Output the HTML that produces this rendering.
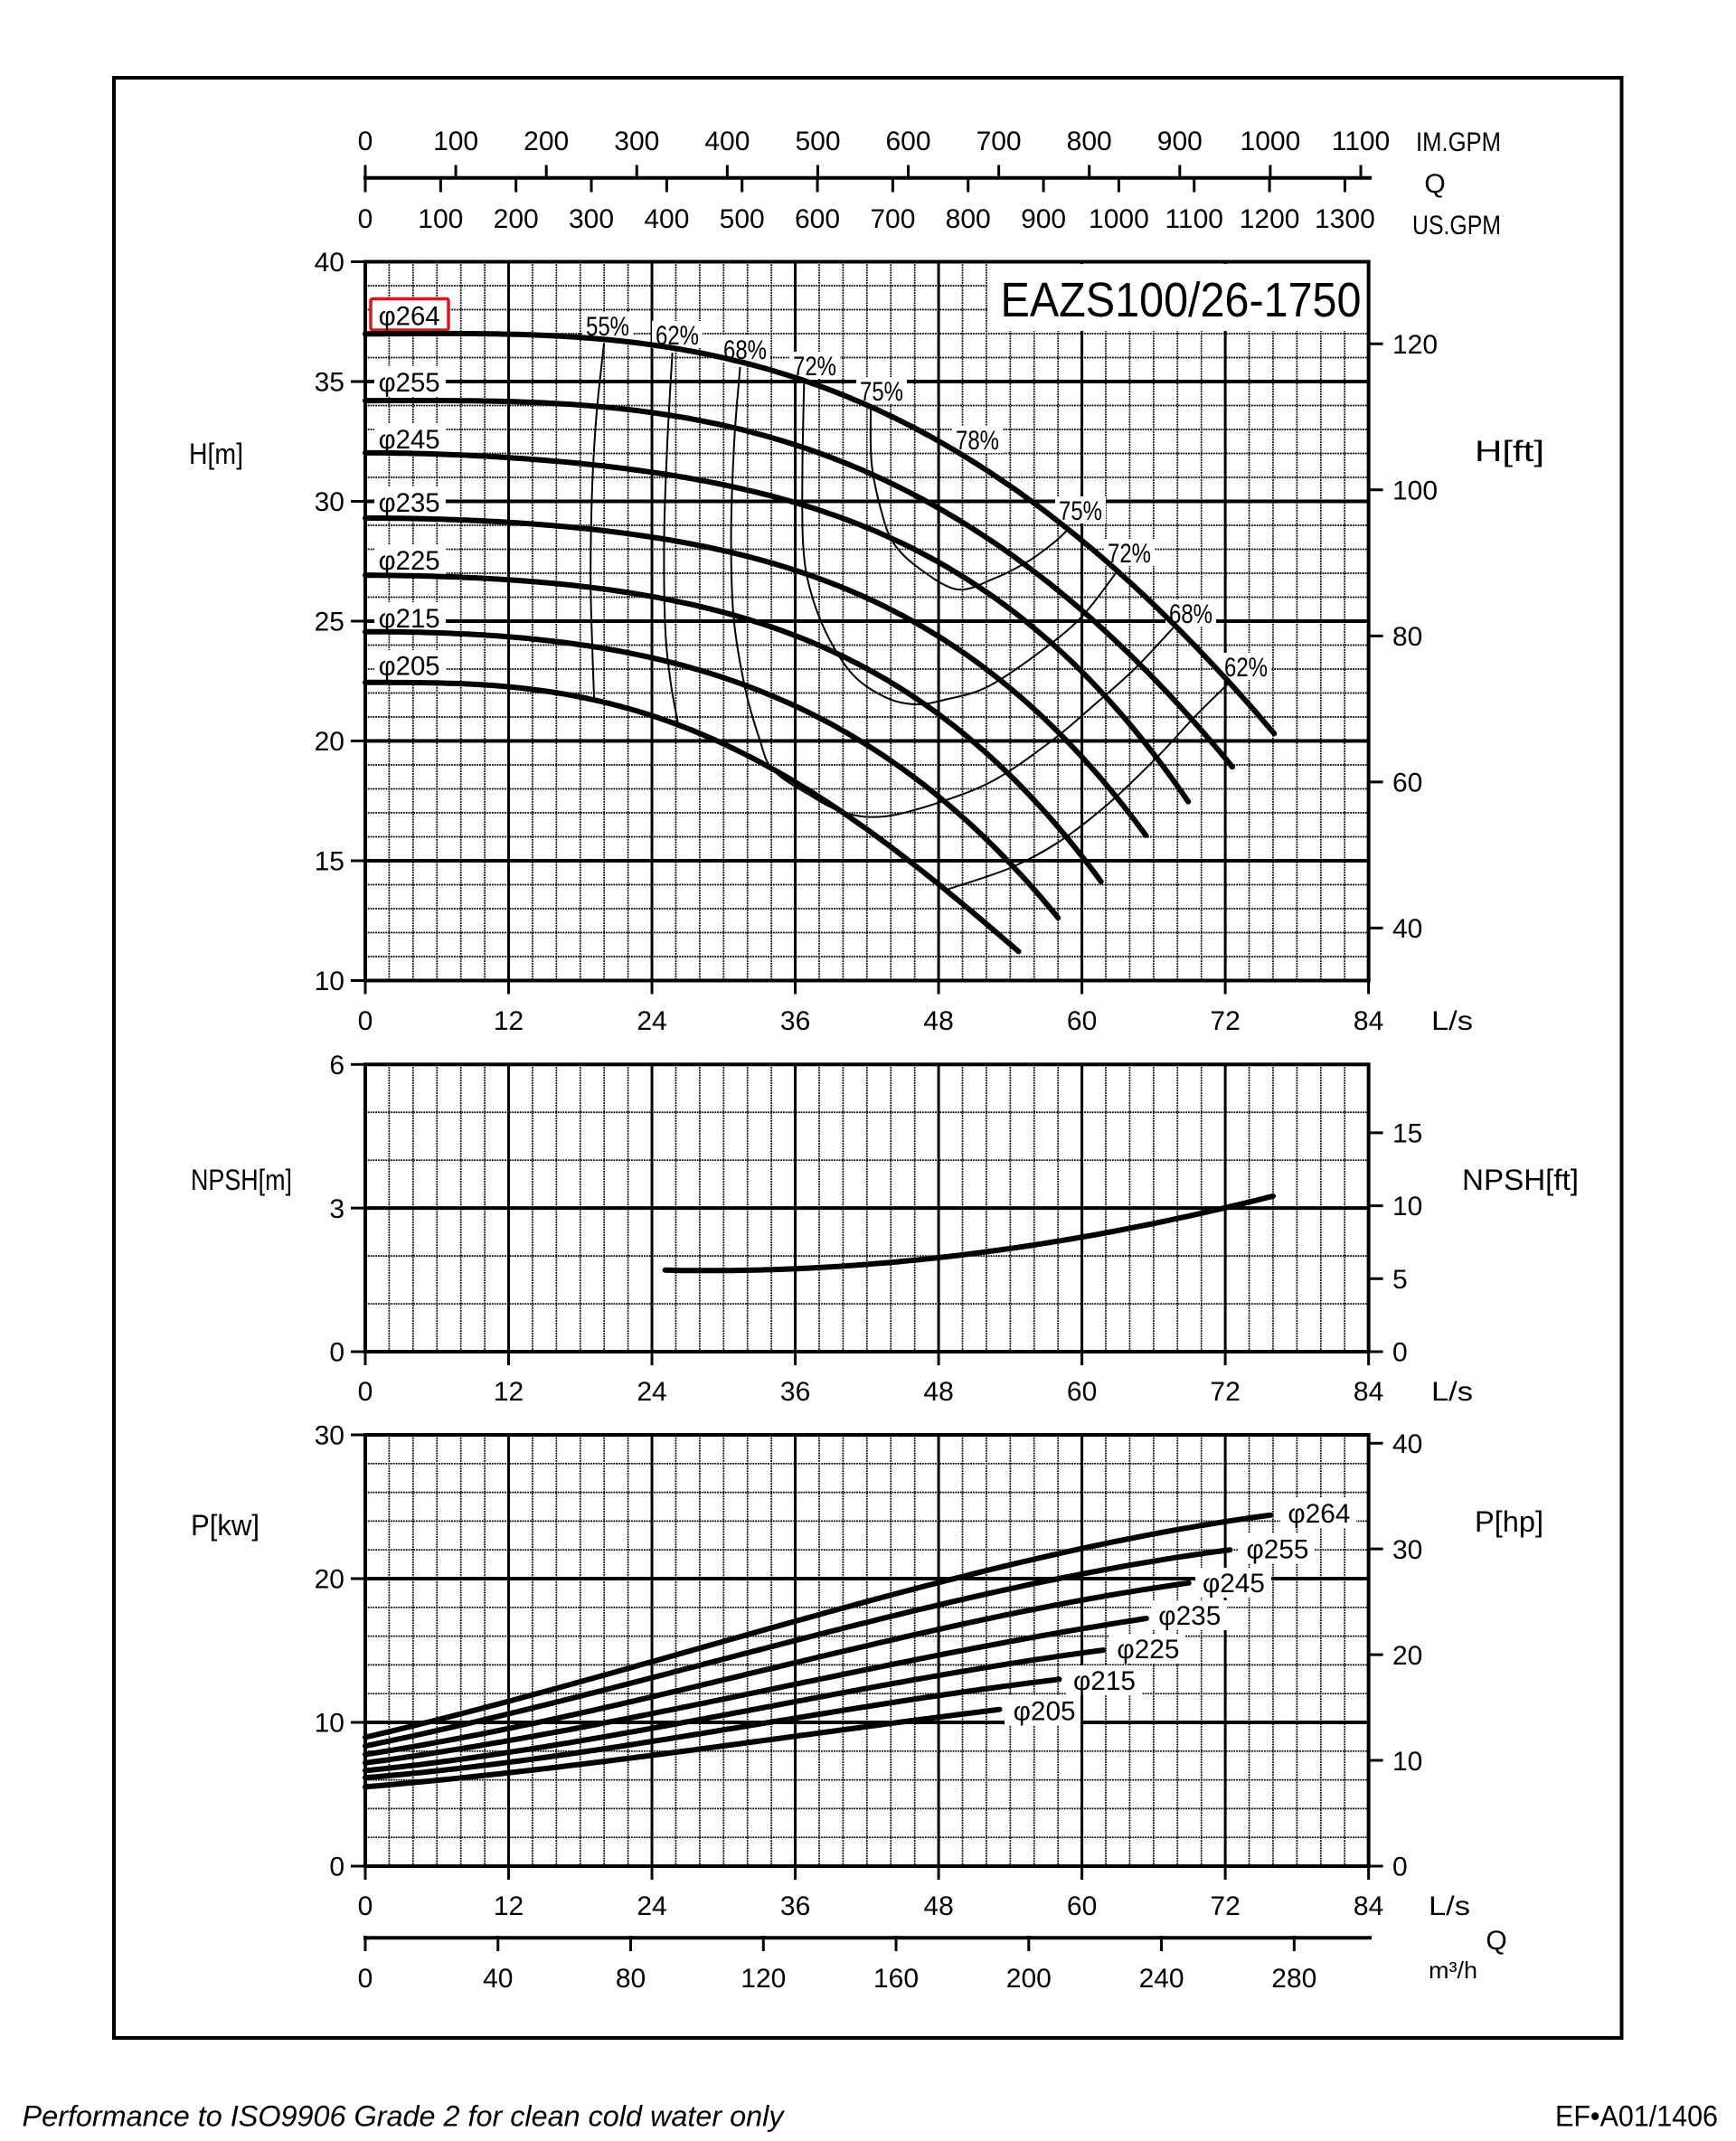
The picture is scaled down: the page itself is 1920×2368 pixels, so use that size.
<!DOCTYPE html>
<html><head><meta charset="utf-8">
<style>
html,body{margin:0;padding:0;background:#fff;}
svg{display:block;}
text{font-family:"Liberation Sans",Arial,sans-serif;fill:#000;}
.t{font-size:30px;}
.m{font-size:30px;text-anchor:middle;}
.e{font-size:30px;text-anchor:end;}
.lab{font-size:30px;}
.pc{font-size:30px;text-anchor:middle;}
</style></head>
<body>
<svg id="s" xmlns="http://www.w3.org/2000/svg" width="1920" height="2368" viewBox="0 0 1920 2368">
<rect width="1920" height="2368" fill="#fff"/>
<rect x="126" y="86" width="1667.5" height="2168" fill="none" stroke="#000" stroke-width="4"/>
<g id="grid"></g>
<!-- title box -->
<rect x="1093" y="292" width="418.5" height="74" fill="#fff"/>
<!-- H chart label backgrounds -->
<rect x="414" y="405" width="79" height="34" fill="#fff"/>
<rect x="414" y="468" width="79" height="34" fill="#fff"/>
<rect x="414" y="538" width="79" height="34" fill="#fff"/>
<rect x="414" y="602" width="79" height="34" fill="#fff"/>
<rect x="414" y="666" width="79" height="34" fill="#fff"/>
<rect x="414" y="719" width="79" height="34" fill="#fff"/>
<rect x="410" y="330.5" width="86" height="34.5" fill="#fff" stroke="#e0141e" stroke-width="3.5" rx="2"/>
<!-- % label backgrounds -->
<rect x="644" y="345" width="56" height="30" fill="#fff"/>
<rect x="721" y="355" width="56" height="30" fill="#fff"/>
<rect x="796" y="371" width="56" height="30" fill="#fff"/>
<rect x="873" y="389" width="56" height="30" fill="#fff"/>
<rect x="947" y="417" width="56" height="30" fill="#fff"/>
<rect x="1053" y="471" width="56" height="30" fill="#fff"/>
<rect x="1167" y="549" width="56" height="30" fill="#fff"/>
<rect x="1221" y="596" width="56" height="30" fill="#fff"/>
<rect x="1289" y="663" width="56" height="30" fill="#fff"/>
<rect x="1350" y="722" width="56" height="30" fill="#fff"/>
<!-- power label backgrounds -->
<rect x="1416" y="1657" width="84" height="33" fill="#fff"/>
<rect x="1370" y="1696" width="84" height="33" fill="#fff"/>
<rect x="1322" y="1734" width="84" height="33" fill="#fff"/>
<rect x="1273" y="1770" width="84" height="33" fill="#fff"/>
<rect x="1227" y="1807" width="84" height="33" fill="#fff"/>
<rect x="1179" y="1842" width="84" height="33" fill="#fff"/>
<rect x="1111" y="1875" width="84" height="33" fill="#fff"/>
<g id="curves"></g>

<!-- top axis labels -->
<g>
<text x="404" y="166" class="m">0</text>
<text x="504.1" y="166" class="m">100</text>
<text x="604.2" y="166" class="m">200</text>
<text x="704.3" y="166" class="m">300</text>
<text x="804.4" y="166" class="m">400</text>
<text x="904.5" y="166" class="m">500</text>
<text x="1004.5" y="166" class="m">600</text>
<text x="1104.6" y="166" class="m">700</text>
<text x="1204.7" y="166" class="m">800</text>
<text x="1304.8" y="166" class="m">900</text>
<text x="1404.9" y="166" class="m">1000</text>
<text x="1505" y="166" class="m">1100</text>
<text x="404" y="252" class="m">0</text>
<text x="487.3" y="252" class="m">100</text>
<text x="570.7" y="252" class="m">200</text>
<text x="654" y="252" class="m">300</text>
<text x="737.4" y="252" class="m">400</text>
<text x="820.7" y="252" class="m">500</text>
<text x="904" y="252" class="m">600</text>
<text x="987.4" y="252" class="m">700</text>
<text x="1070.7" y="252" class="m">800</text>
<text x="1154.1" y="252" class="m">900</text>
<text x="1237.4" y="252" class="m">1000</text>
<text x="1320.7" y="252" class="m">1100</text>
<text x="1404.1" y="252" class="m">1200</text>
<text x="1487.4" y="252" class="m">1300</text>
</g>
<text x="1566" y="167" class="t" textLength="94" lengthAdjust="spacingAndGlyphs">IM.GPM</text>
<text x="1587" y="213" class="m">Q</text>
<text x="1562" y="259" class="t" textLength="98" lengthAdjust="spacingAndGlyphs">US.GPM</text>

<!-- title -->
<text x="1106.5" y="350" style="font-size:54px" textLength="399" lengthAdjust="spacingAndGlyphs">EAZS100/26-1750</text>

<!-- H chart axis labels -->
<text x="381" y="300" class="e">40</text>
<text x="381" y="432.5" class="e">35</text>
<text x="381" y="565" class="e">30</text>
<text x="381" y="697.5" class="e">25</text>
<text x="381" y="830" class="e">20</text>
<text x="381" y="962.5" class="e">15</text>
<text x="381" y="1095" class="e">10</text>
<text x="1540" y="391" class="t">120</text>
<text x="1540" y="552.5" class="t">100</text>
<text x="1540" y="714" class="t">80</text>
<text x="1540" y="875.5" class="t">60</text>
<text x="1540" y="1037" class="t">40</text>
<text x="209" y="513" style="font-size:32px" textLength="60" lengthAdjust="spacingAndGlyphs">H[m]</text>
<text x="1631" y="510" style="font-size:32px" textLength="77" lengthAdjust="spacingAndGlyphs">H[ft]</text>
<g>
<text x="404" y="1139" class="m">0</text>
<text x="562.5" y="1139" class="m">12</text>
<text x="721" y="1139" class="m">24</text>
<text x="879.6" y="1139" class="m">36</text>
<text x="1038.1" y="1139" class="m">48</text>
<text x="1196.6" y="1139" class="m">60</text>
<text x="1355.1" y="1139" class="m">72</text>
<text x="1513.6" y="1139" class="m">84</text>
<text x="1583" y="1139" class="t" textLength="46" lengthAdjust="spacingAndGlyphs">L/s</text>
</g>

<!-- H chart phi labels -->
<text x="418.6" y="359.5" class="lab" textLength="68" lengthAdjust="spacingAndGlyphs">φ264</text>
<text x="418.6" y="433" class="lab" textLength="68" lengthAdjust="spacingAndGlyphs">φ255</text>
<text x="418.6" y="496" class="lab" textLength="68" lengthAdjust="spacingAndGlyphs">φ245</text>
<text x="418.6" y="566" class="lab" textLength="68" lengthAdjust="spacingAndGlyphs">φ235</text>
<text x="418.6" y="630" class="lab" textLength="68" lengthAdjust="spacingAndGlyphs">φ225</text>
<text x="418.6" y="694" class="lab" textLength="68" lengthAdjust="spacingAndGlyphs">φ215</text>
<text x="418.6" y="746.5" class="lab" textLength="68" lengthAdjust="spacingAndGlyphs">φ205</text>

<!-- % labels -->
<text x="672" y="371" class="pc" textLength="48" lengthAdjust="spacingAndGlyphs">55%</text>
<text x="749" y="381" class="pc" textLength="48" lengthAdjust="spacingAndGlyphs">62%</text>
<text x="824" y="397" class="pc" textLength="48" lengthAdjust="spacingAndGlyphs">68%</text>
<text x="901" y="415" class="pc" textLength="48" lengthAdjust="spacingAndGlyphs">72%</text>
<text x="975" y="443" class="pc" textLength="48" lengthAdjust="spacingAndGlyphs">75%</text>
<text x="1081" y="497" class="pc" textLength="48" lengthAdjust="spacingAndGlyphs">78%</text>
<text x="1195" y="575" class="pc" textLength="48" lengthAdjust="spacingAndGlyphs">75%</text>
<text x="1249" y="622" class="pc" textLength="48" lengthAdjust="spacingAndGlyphs">72%</text>
<text x="1317" y="689" class="pc" textLength="48" lengthAdjust="spacingAndGlyphs">68%</text>
<text x="1378" y="748" class="pc" textLength="48" lengthAdjust="spacingAndGlyphs">62%</text>

<!-- NPSH chart labels -->
<text x="381" y="1188" class="e">6</text>
<text x="381" y="1347" class="e">3</text>
<text x="381" y="1505.5" class="e">0</text>
<text x="1540" y="1263.5" class="t">15</text>
<text x="1540" y="1344" class="t">10</text>
<text x="1540" y="1425" class="t">5</text>
<text x="1540" y="1505.5" class="t">0</text>
<text x="211" y="1316" style="font-size:32px" textLength="112" lengthAdjust="spacingAndGlyphs">NPSH[m]</text>
<text x="1617" y="1316" style="font-size:32px" textLength="129" lengthAdjust="spacingAndGlyphs">NPSH[ft]</text>
<g>
<text x="404" y="1549" class="m">0</text>
<text x="562.5" y="1549" class="m">12</text>
<text x="721" y="1549" class="m">24</text>
<text x="879.6" y="1549" class="m">36</text>
<text x="1038.1" y="1549" class="m">48</text>
<text x="1196.6" y="1549" class="m">60</text>
<text x="1355.1" y="1549" class="m">72</text>
<text x="1513.6" y="1549" class="m">84</text>
<text x="1583" y="1549" class="t" textLength="46" lengthAdjust="spacingAndGlyphs">L/s</text>
</g>

<!-- Power chart labels -->
<text x="381" y="1597.5" class="e">30</text>
<text x="381" y="1756.5" class="e">20</text>
<text x="381" y="1915.5" class="e">10</text>
<text x="381" y="2074.5" class="e">0</text>
<text x="1540" y="1607" class="t">40</text>
<text x="1540" y="1724" class="t">30</text>
<text x="1540" y="1841" class="t">20</text>
<text x="1540" y="1958" class="t">10</text>
<text x="1540" y="2074.5" class="t">0</text>
<text x="211" y="1698" style="font-size:32px" textLength="76" lengthAdjust="spacingAndGlyphs">P[kw]</text>
<text x="1631" y="1694" style="font-size:32px" textLength="76" lengthAdjust="spacingAndGlyphs">P[hp]</text>
<g>
<text x="404" y="2118" class="m">0</text>
<text x="562.5" y="2118" class="m">12</text>
<text x="721" y="2118" class="m">24</text>
<text x="879.6" y="2118" class="m">36</text>
<text x="1038.1" y="2118" class="m">48</text>
<text x="1196.6" y="2118" class="m">60</text>
<text x="1355.1" y="2118" class="m">72</text>
<text x="1513.6" y="2118" class="m">84</text>
<text x="1580" y="2118" class="t" textLength="46" lengthAdjust="spacingAndGlyphs">L/s</text>
</g>
<text x="1424.4" y="1684" class="lab" textLength="69" lengthAdjust="spacingAndGlyphs">φ264</text>
<text x="1378.5" y="1723.5" class="lab" textLength="69" lengthAdjust="spacingAndGlyphs">φ255</text>
<text x="1330" y="1761" class="lab" textLength="69" lengthAdjust="spacingAndGlyphs">φ245</text>
<text x="1281.3" y="1797" class="lab" textLength="69" lengthAdjust="spacingAndGlyphs">φ235</text>
<text x="1235.4" y="1834" class="lab" textLength="69" lengthAdjust="spacingAndGlyphs">φ225</text>
<text x="1187" y="1869" class="lab" textLength="69" lengthAdjust="spacingAndGlyphs">φ215</text>
<text x="1120.6" y="1902.5" class="lab" textLength="69" lengthAdjust="spacingAndGlyphs">φ205</text>

<!-- m3/h axis labels -->
<text x="404" y="2198" class="m">0</text>
<text x="550.8" y="2198" class="m">40</text>
<text x="697.5" y="2198" class="m">80</text>
<text x="844.3" y="2198" class="m">120</text>
<text x="991" y="2198" class="m">160</text>
<text x="1137.8" y="2198" class="m">200</text>
<text x="1284.6" y="2198" class="m">240</text>
<text x="1431.3" y="2198" class="m">280</text>
<text x="1655" y="2156" class="m">Q</text>
<text x="1580" y="2188" style="font-size:26px" textLength="54" lengthAdjust="spacingAndGlyphs">m³/h</text>

<!-- footer -->
<text x="24.5" y="2351.5" style="font-size:32px;font-style:italic" textLength="842" lengthAdjust="spacingAndGlyphs">Performance to ISO9906 Grade 2 for clean cold water only</text>
<text x="1720" y="2351.5" style="font-size:32px" textLength="180" lengthAdjust="spacingAndGlyphs">EF•A01/1406</text>
</svg>
<script>
(function(){
const NS='http://www.w3.org/2000/svg';
const G=document.getElementById('grid'), C=document.getElementById('curves');
function ln(g,x1,y1,x2,y2,w,dash,col){const e=document.createElementNS(NS,'line');
 e.setAttribute('x1',x1);e.setAttribute('y1',y1);e.setAttribute('x2',x2);e.setAttribute('y2',y2);
 e.setAttribute('stroke',col||'#000');e.setAttribute('stroke-width',w);
 if(dash)e.setAttribute('stroke-dasharray',dash);g.appendChild(e);}
function rc(g,x,y,w,h,sw){const e=document.createElementNS(NS,'rect');
 e.setAttribute('x',x);e.setAttribute('y',y);e.setAttribute('width',w);e.setAttribute('height',h);
 e.setAttribute('fill','none');e.setAttribute('stroke','#000');e.setAttribute('stroke-width',sw);g.appendChild(e);}
const X=q=>404+q*13.21, XL=X(0), XR=X(84);
const YH=h=>289.5+(40-h)*26.5, YN=n=>1495-n*52.95, YP=p=>2064-p*15.9;
const DASH='1.8 1';
function chart(Y,vmin,vmax,mi,ma){
 const yT=Y(vmax), yB=Y(vmin);
 for(let q=2;q<84;q+=2) if(q%12) ln(G,X(q),yT,X(q),yB,1.7,DASH,'#000');
 const n=Math.round((vmax-vmin)/mi);
 for(let k=1;k<n;k++){const v=vmin+k*mi; const r=v/ma; if(Math.abs(r-Math.round(r))>1e-6) ln(G,XL,Y(v),XR,Y(v),1.7,DASH,'#000');}
 for(let q=12;q<84;q+=12) ln(G,X(q),yT,X(q),yB,3);
 for(let v=vmin+ma; v<vmax-1e-6; v+=ma) ln(G,XL,Y(v),XR,Y(v),4);
 for(let q=0;q<=84;q+=12) ln(G,X(q),yB,X(q),yB+15,3);
 for(let v=vmin; v<=vmax+1e-6; v+=ma) ln(G,388,Y(v),XL,Y(v),3);
 rc(G,XL,yT,XR-XL,yB-yT,4);
}
chart(YH,10,40,1,5);
chart(YN,0,6,1,3);
chart(YP,0,30,2,10);
[120,100,80,60,40].forEach(f=>{const y=YH(f*0.3048); ln(G,XR,y,XR+16,y,3);});
[15,10,5,0].forEach(f=>{const y=YN(f*0.3048); ln(G,XR,y,XR+16,y,3);});
[40,30,20,10,0].forEach(h=>{const y=YP(h*0.7355); ln(G,XR,y,XR+16,y,3);});
ln(G,402,196.7,1517,196.7,4);
for(let v=0;v<=1100;v+=100){const x=404+v*1.0009; ln(G,x,182.5,x,198,3);}
for(let v=0;v<=1300;v+=100){const x=404+v*0.8334; ln(G,x,195,x,212.5,3);}
ln(G,402,2143.3,1517,2143.3,4);
for(let v=0;v<=280;v+=40){const x=404+v*3.669; ln(G,x,2141,x,2158,3);}

const f=v=>v.toFixed(1);
function addPath(d,w){
 const e=document.createElementNS(NS,'path');
 e.setAttribute('d',d);e.setAttribute('fill','none');e.setAttribute('stroke','#000');
 e.setAttribute('stroke-width',w);e.setAttribute('stroke-linecap','round');e.setAttribute('stroke-linejoin','round');
 C.appendChild(e);
}
function curve(pts,Y,w){
 const p=pts.map(a=>[X(a[0]),Y(a[1])]);
 let d='M'+f(p[0][0])+','+f(p[0][1]);
 for(let i=0;i<p.length-1;i++){
  const p0=p[i-1]||p[i], p1=p[i], p2=p[i+1], p3=p[i+2]||p[i+1];
  const c1=[p1[0]+(p2[0]-p0[0])/6, p1[1]+(p2[1]-p0[1])/6];
  const c2=[p2[0]-(p3[0]-p1[0])/6, p2[1]-(p3[1]-p1[1])/6];
  d+='C'+f(c1[0])+','+f(c1[1])+' '+f(c2[0])+','+f(c2[1])+' '+f(p2[0])+','+f(p2[1]);
 }
 addPath(d,w);
}
function fit(pts,exps){
 const s=50,n=exps.length;
 const A=[];for(let i=0;i<n;i++){A.push(new Array(n+1).fill(0));}
 pts.forEach(([q,h])=>{const t=q/s;const pw=exps.map(e=>Math.pow(t,e));
  for(let i=0;i<n;i++){for(let j=0;j<n;j++)A[i][j]+=pw[i]*pw[j];A[i][n]+=pw[i]*h;}});
 for(let i=0;i<n;i++){let m=i;for(let k=i+1;k<n;k++)if(Math.abs(A[k][i])>Math.abs(A[m][i]))m=k;
  const tmp=A[i];A[i]=A[m];A[m]=tmp;
  for(let k=i+1;k<n;k++){const r=A[k][i]/A[i][i];for(let j=i;j<=n;j++)A[k][j]-=r*A[i][j];}}
 const c=new Array(n).fill(0);
 for(let i=n-1;i>=0;i--){let v=A[i][n];for(let j=i+1;j<n;j++)v-=A[i][j]*c[j];c[i]=v/A[i][i];}
 return q=>{const t=q/s;let v=0;for(let i=0;i<n;i++)v+=c[i]*Math.pow(t,exps[i]);return v;};
}
function fcurve(pts,Y,w,exps){
 const F=fit(pts,exps||[0,1,2,3]);const q0=pts[0][0],q1=pts[pts.length-1][0];
 const N=Math.ceil((q1-q0)/0.5);let d='';
 for(let i=0;i<=N;i++){const q=q0+(q1-q0)*i/N;d+=(i?'L':'M')+f(X(q))+','+f(Y(F(q)));}
 addPath(d,w);
}
// efficiency curves
const EW=2;
curve([[19.98,36.56],[19.41,33.92],[19.08,31.49],[18.9,28.86],[18.87,26.32],[19.0,23.98],[19.16,21.74]],YH,EW);
curve([[25.71,36.17],[25.3,32.56],[25.03,28.66],[25.11,24.77],[25.57,22.43],[26.25,20.57]],YH,EW);
curve([[31.38,35.58],[30.9,32.56],[30.63,28.66],[30.84,25.15],[31.79,22.23],[33.0,20.09],[34.09,18.82],[37,17.8],[40.14,17.0],[43.5,16.85],[47.84,17.4],[52.6,18.35],[57.4,19.98],[61.0,21.49],[64.4,23.0],[67.6,24.7]],YH,EW);
curve([[36.74,34.9],[36.6,31.5],[36.65,28.28],[37.2,26.4],[38.6,24.5],[40.85,22.75],[43.65,21.8],[46.17,21.53],[48.7,21.74],[52.05,22.25],[56.25,23.63],[59.9,25.14],[62.98,27.1]],YH,EW);
curve([[42.32,33.9],[42.39,31.59],[43.2,29.6],[44.2,28.28],[46.17,27.28],[49.53,26.33],[52.6,26.77],[55.5,27.5],[57.65,28.28],[58.78,28.8]],YH,EW);
curve([[48.83,13.82],[54.0,14.7],[58.2,15.83],[62.4,17.46],[66.6,19.48],[69.4,20.99],[72.2,22.37]],YH,EW);
// H-Q curves (smoothed fits, flat at shutoff)
const HW=6, HE=[0,2,3,4];
fcurve([[0,37.08],[12,36.93],[24,36.42],[36,35.2],[48,32.6],[60,28.35],[72,22.5],[76.1,20.4]],YH,HW,HE);
fcurve([[0,34.28],[12,34.12],[24,33.63],[36,32.33],[48,29.9],[60,25.3],[72.6,18.95]],YH,HW,HE);
fcurve([[0,32.02],[12,31.82],[24,31.24],[36,29.93],[48,27.45],[60,22.9],[68.9,17.46]],YH,HW,HE);
fcurve([[0,29.31],[12,29.09],[24,28.53],[36,27.2],[48,24.2],[60,19.5],[65.35,15.98]],YH,HW,HE);
fcurve([[0,26.95],[12,26.71],[24,25.94],[36,24.5],[48,21.1],[55,18.0],[61.6,14.16]],YH,HW,HE);
fcurve([[0,24.53],[12,24.34],[24,23.6],[36,21.3],[48,17.7],[53,15.5],[58,12.56]],YH,HW,HE);
fcurve([[0,22.46],[12,22.23],[24,21.06],[36,18.3],[48,14.0],[54.7,11.22]],YH,HW,HE);
// NPSH
fcurve([[25.1,1.70],[37.1,1.76],[48.2,1.95],[60.3,2.42],[72.3,3.02],[76,3.25]],YN,6);
// Power
const PW=6;
fcurve([[0,9.0],[12,11.4],[24,14.2],[36,17.1],[48,19.8],[60,22.0],[72,23.9],[75.8,24.5]],YP,PW);
fcurve([[0,8.4],[12,10.5],[24,13.1],[36,15.8],[48,18.2],[60,20.2],[72.4,22.05]],YP,PW);
fcurve([[0,7.8],[12,9.5],[24,11.8],[36,14.2],[48,16.5],[60,18.4],[68.95,19.75]],YP,PW);
fcurve([[0,7.2],[12,8.7],[24,10.6],[36,12.7],[48,14.7],[60,16.4],[65.4,17.3]],YP,PW);
fcurve([[0,6.65],[12,7.9],[24,9.6],[36,11.45],[48,13.25],[61.8,15.03]],YP,PW);
fcurve([[0,6.16],[12,7.2],[24,8.7],[36,10.3],[48,11.85],[58.1,13.0]],YP,PW);
fcurve([[0,5.53],[12,6.45],[24,7.75],[36,9.05],[48,10.3],[53.1,10.94]],YP,PW);
})();
</script>
</body></html>
